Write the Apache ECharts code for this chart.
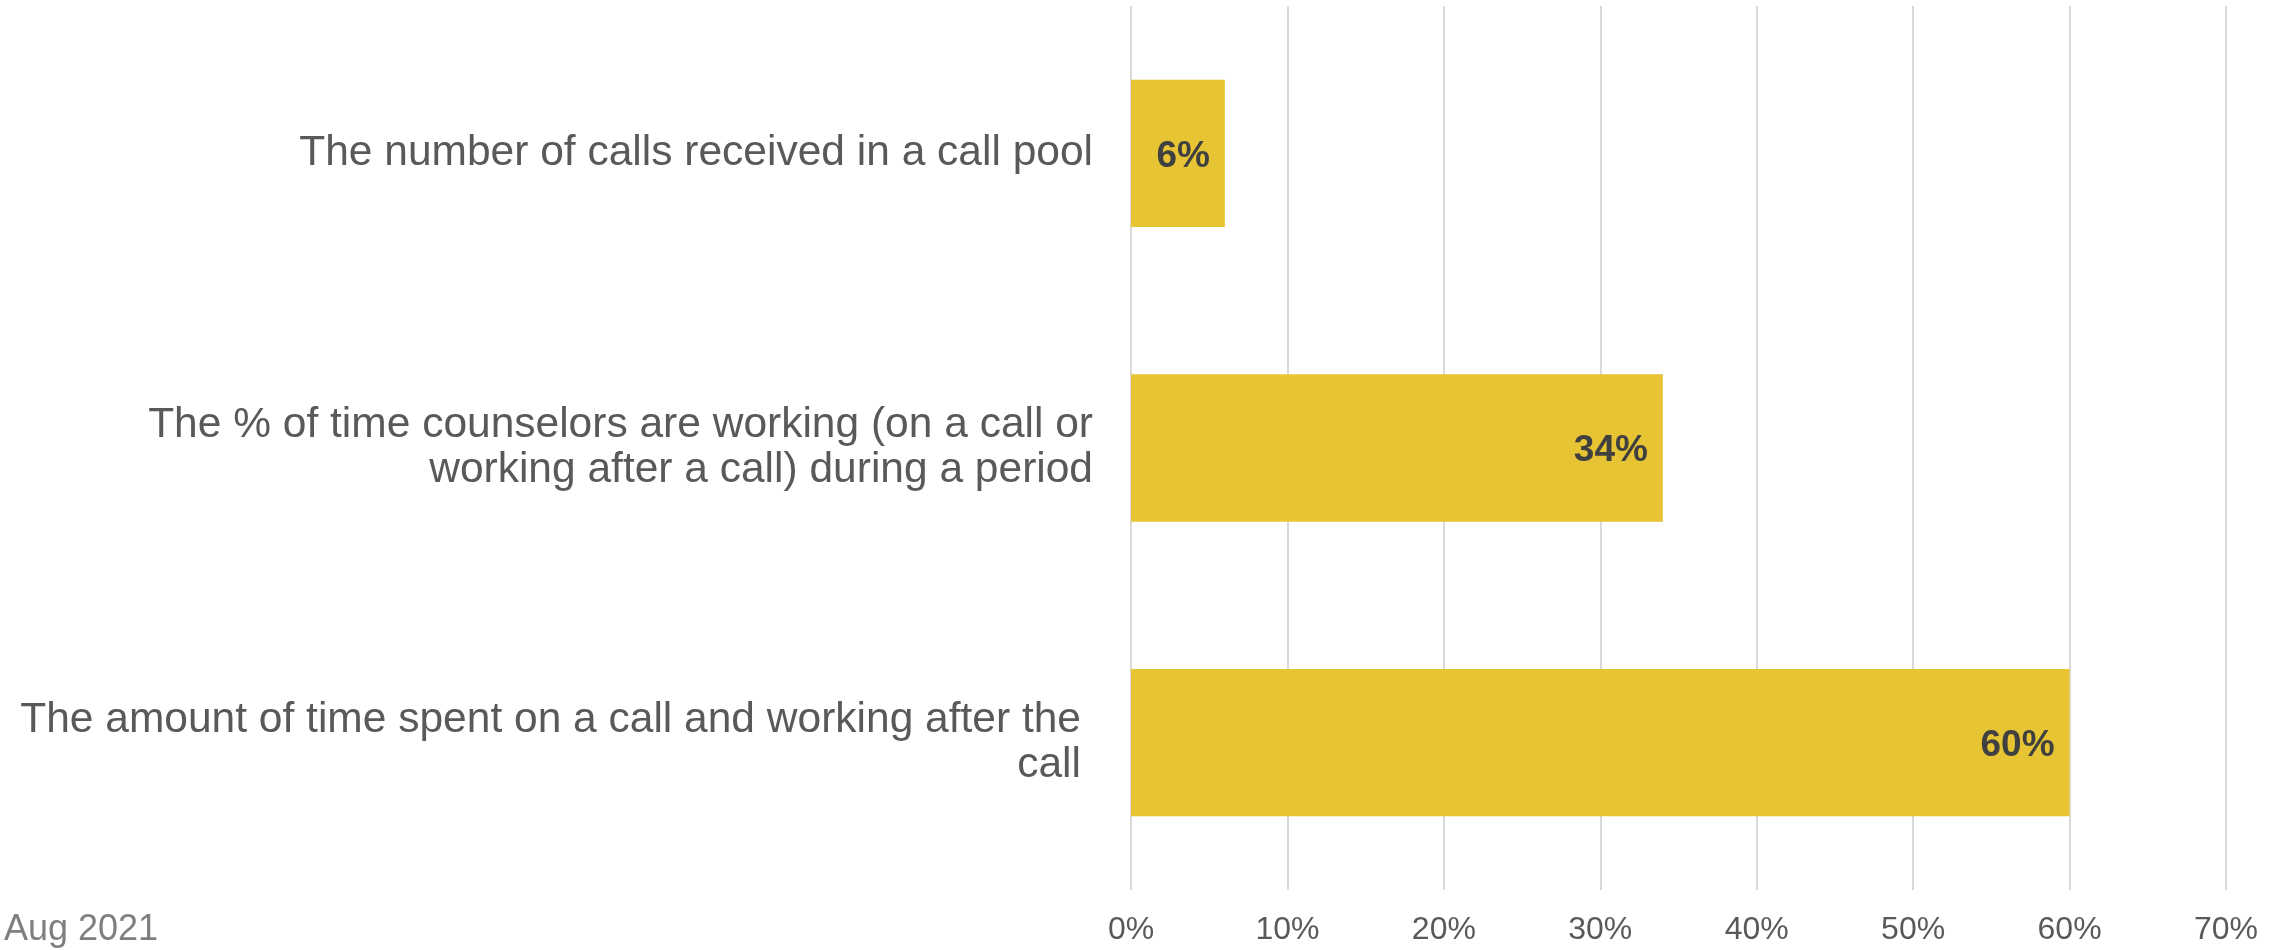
<!DOCTYPE html>
<html>
<head>
<meta charset="utf-8">
<script src="https://cdn.jsdelivr.net/npm/echarts@6/dist/echarts.min.js"></script>
<style>
  html, body { margin: 0; padding: 0; background: #ffffff; }
  #chart { width: 2285px; height: 950px; }
</style>
</head>
<body>
<div id="chart"></div>
<script>
// Survey categories (top to bottom) and their shares in percent
const categories = [
  'The number of calls received in a call pool',
  'The % of time counselors are working (on a call or\nworking after a call) during a period',
  'The amount of time spent on a call and working after the\ncall'
];
const shares = [6, 34, 60];
const tickValues = [0, 10, 20, 30, 40, 50, 60, 70];
const footnote = 'Aug 2021';

const FONT = '"Liberation Sans", Arial, Helvetica, sans-serif';

const chart = echarts.init(document.getElementById('chart'));

chart.setOption({
  backgroundColor: '#ffffff',
  animation: false,
  grid: { left: 1131, right: 59, top: 6, bottom: 60, containLabel: false },
  xAxis: {
    type: 'value',
    min: tickValues[0],
    max: tickValues[tickValues.length - 1],
    interval: tickValues[1] - tickValues[0],
    axisLine: { show: false },
    axisTick: { show: false },
    splitLine: { show: true, lineStyle: { color: '#d9d9d9', width: 2 } },
    axisLabel: {
      formatter: '{value}%',
      color: '#595959',
      fontFamily: FONT,
      fontSize: 32,
      margin: 24
    }
  },
  yAxis: {
    type: 'category',
    inverse: true,
    data: categories.map((c, i) => ({
      value: c,
      textStyle: i === 2 ? { padding: [8, 12, 0, 0] } : { padding: [8, 0, 0, 0] }
    })),
    axisLine: { show: false },
    axisTick: { show: false },
    axisLabel: {
      color: '#595959',
      fontFamily: FONT,
      fontSize: 42.5,
      lineHeight: 45,
      align: 'right',
      margin: 38
    }
  },
  series: [{
    type: 'bar',
    data: shares,
    barCategoryGap: '50%',
    itemStyle: { color: '#E7C433' },
    label: {
      show: true,
      position: 'insideRight',
      distance: 15,
      offset: [0, 3],
      formatter: '{c}%',
      color: '#404040',
      fontFamily: FONT,
      fontWeight: 'bold',
      fontSize: 37
    }
  }],
  graphic: [{
    type: 'text',
    left: 4,
    top: 912,
    style: {
      text: footnote,
      fill: '#7f7f7f',
      font: '36px ' + FONT
    }
  }]
});
</script>
</body>
</html>
